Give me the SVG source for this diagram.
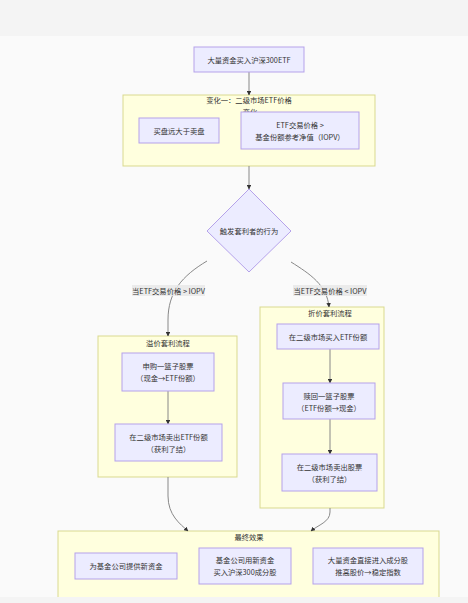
<svg xmlns="http://www.w3.org/2000/svg" width="468" height="603" viewBox="0 0 468 603">
<defs>
<style>
.bg{fill:#f4f4f4}
.cl{fill:#ffffde;stroke:#d9d98f;stroke-width:1}
.nd{fill:#ececff;stroke:#b5a2ea;stroke-width:1}
.t{font-family:"Noto Sans CJK SC","Noto Sans",sans-serif;font-size:7.3px;fill:#333;text-anchor:middle;dominant-baseline:central}
.e{fill:none;stroke:#888;stroke-width:1}
.lb{fill:#e8e8e8;opacity:0.85}
</style>
<marker id="ah" viewBox="0 0 10 10" refX="9" refY="5" markerWidth="4.5" markerHeight="4.5" orient="auto-start-reverse" markerUnits="userSpaceOnUse">
<path d="M0,0 L10,5 L0,10 z" fill="#333"/>
</marker>
</defs>
<rect x="0" y="0" width="468" height="603" fill="#fafafa"/>
<rect class="bg" x="0" y="0" width="468" height="36"/>

<g id="cluster-change1">
<rect class="cl" x="123" y="95" width="252" height="71"/>
<text class="t" x="249" y="100">变化一：二级市场ETF价格</text>
<text class="t" x="250" y="111.5">变化</text>
</g>
<g id="cluster-premium">
<rect class="cl" x="98" y="336" width="139" height="141"/>
<text class="t" x="168" y="343">溢价套利流程</text>
</g>
<g id="cluster-discount">
<rect class="cl" x="260" y="307" width="124" height="201"/>
<text class="t" x="330" y="313">折价套利流程</text>
</g>
<g id="cluster-final">
<rect class="cl" x="58" y="531" width="381" height="110"/>
<text class="t" x="249" y="537">最终效果</text>
</g>

<g id="connectors">
<path class="e" d="M249,72 L249,95" marker-end="url(#ah)"/>
<path class="e" d="M249,166 L249,189" marker-end="url(#ah)"/>
<path class="e" d="M207,261 C182,276 168,292 168,320 L168,336" marker-end="url(#ah)"/>
<path class="e" d="M291,262 C310,274 327,285 329,307" marker-end="url(#ah)"/>
<path class="e" d="M168,391 L168,424" marker-end="url(#ah)"/>
<path class="e" d="M330,349 L330,383" marker-end="url(#ah)"/>
<path class="e" d="M330,419 L330,454" marker-end="url(#ah)"/>
<path class="e" d="M168,477 L168,496 C168,515 180,524 188,531" marker-end="url(#ah)"/>
<path class="e" d="M330,508 L330,512 C330,522 318,525 311,531" marker-end="url(#ah)"/>
<rect class="lb" x="132" y="285" width="73" height="11"/>
<text class="t" x="168.5" y="290.5">当ETF交易价格 &gt; IOPV</text>
<rect class="lb" x="293" y="285" width="74" height="11"/>
<text class="t" x="330" y="290.5">当ETF交易价格 &lt; IOPV</text>
</g>

<g id="node-buy">
<rect class="nd" x="194" y="47" width="110" height="25"/>
<text class="t" x="249" y="59.5">大量资金买入沪深300ETF</text>
</g>
<g id="node-demand">
<rect class="nd" x="139" y="118" width="80" height="25"/>
<text class="t" x="179" y="130.5">买盘远大于卖盘</text>
</g>
<g id="node-price">
<rect class="nd" x="241" y="112" width="118" height="37"/>
<text class="t" x="300" y="124.5">ETF交易价格 &gt;</text>
<text class="t" x="300" y="136.5">基金份额参考净值（IOPV）</text>
</g>
<g id="node-trigger">
<polygon class="nd" points="249,189 291,231 249,272 207,231"/>
<text class="t" x="249" y="231">触发套利者的行为</text>
</g>
<g id="node-subscribe">
<rect class="nd" x="122" y="353" width="92" height="38"/>
<text class="t" x="168" y="366">申购一篮子股票</text>
<text class="t" x="168" y="378">（现金→ETF份额）</text>
</g>
<g id="node-sell-etf">
<rect class="nd" x="115" y="424" width="107" height="37"/>
<text class="t" x="168.5" y="437">在二级市场卖出ETF份额</text>
<text class="t" x="168.5" y="449">（获利了结）</text>
</g>
<g id="node-buy-etf">
<rect class="nd" x="277" y="324" width="102" height="25"/>
<text class="t" x="328" y="336.5">在二级市场买入ETF份额</text>
</g>
<g id="node-redeem">
<rect class="nd" x="283" y="383" width="92" height="36"/>
<text class="t" x="329" y="395.5">赎回一篮子股票</text>
<text class="t" x="329" y="407.5">（ETF份额→现金）</text>
</g>
<g id="node-sell-stock">
<rect class="nd" x="282" y="454" width="95" height="37"/>
<text class="t" x="329.5" y="466.5">在二级市场卖出股票</text>
<text class="t" x="329.5" y="478.5">（获利了结）</text>
</g>
<g id="node-newfund">
<rect class="nd" x="75" y="553" width="102" height="26"/>
<text class="t" x="126" y="566">为基金公司提供新资金</text>
</g>
<g id="node-fundbuy">
<rect class="nd" x="199" y="548" width="92" height="36"/>
<text class="t" x="245" y="560">基金公司用新资金</text>
<text class="t" x="245" y="572">买入沪深300成分股</text>
</g>
<g id="node-direct">
<rect class="nd" x="313" y="548" width="110" height="36"/>
<text class="t" x="368" y="560">大量资金直接进入成分股</text>
<text class="t" x="368" y="572">推高股价→稳定指数</text>
</g>
<rect class="bg" x="0" y="597" width="468" height="6"/>
</svg>
